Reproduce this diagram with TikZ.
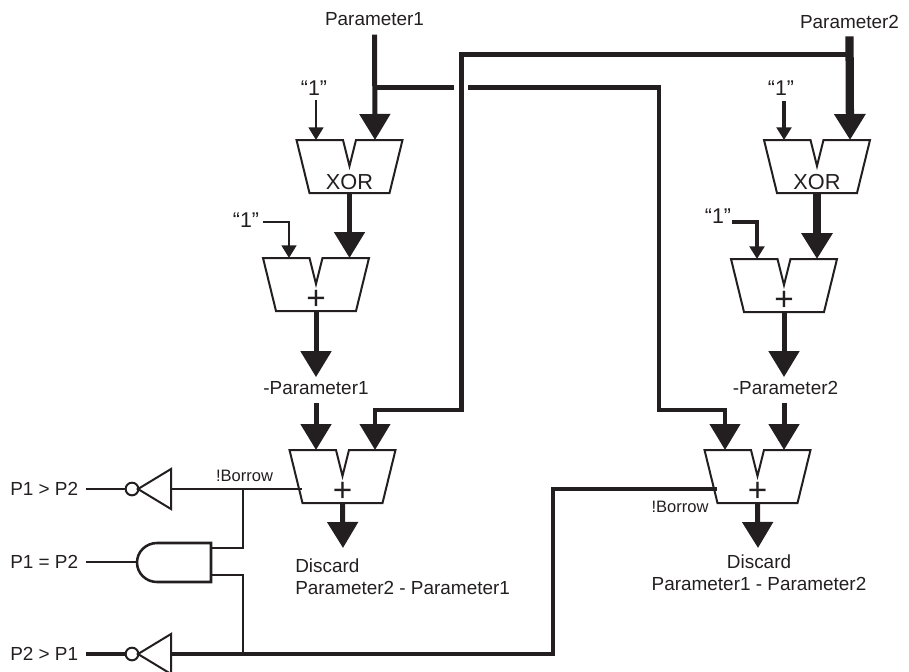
\documentclass[tikz,border=0pt]{standalone}
\usepackage{fontspec}
\setmainfont{Liberation Sans}
\usepackage{amsmath}
\usetikzlibrary{arrows.meta,shapes.geometric,calc}
\definecolor{ink}{HTML}{231F20}

% adder / xor block: name, centre x, top y, left input x, right input x, text
\newcommand{\alubox}[6]{
  \draw[alu] (#2-53,#3) -- (#2-6.5,#3) -- (#2,#3+26) -- (#2+6.5,#3) -- (#2+53,#3)
    -- (#2+40,#3+53) -- (#2-40,#3+53) -- cycle;
  \node[alutext] (#1) at (#2,#3+42) {#6};
  \coordinate (#1-l) at (#4,#3);
  \coordinate (#1-r) at (#5,#3);
  \coordinate (#1-o) at (#2,#3+53);
}
\newcommand{\plusmark}{\fontsize{25}{26}\selectfont +}

\begin{document}
\begin{tikzpicture}[
  x=0.75pt, y=-0.75pt, color=ink,
  alu/.style={draw, line width=1.5pt, line join=miter},
  alutext/.style={inner sep=0pt, font=\fontsize{16.3}{18}\selectfont},
  label/.style={inner sep=0pt, font=\fontsize{14.2}{16.5}\selectfont, align=center},
  onelabel/.style={inner sep=0pt, font=\fontsize{16}{18}\selectfont},
  small/.style={inner sep=0pt, font=\fontsize{12.4}{14}\selectfont},
  bus/.style={line width=3.75pt, -{Triangle[width=22.5pt,length=19.5pt]}},
  widebus/.style={line width=6.2pt, -{Triangle[width=22.5pt,length=19.5pt]}},
  crossbus/.style={line width=3.2pt, -{Triangle[width=22.5pt,length=19.5pt]}},
  bit/.style={line width=2pt, -{Triangle[width=11pt,length=9.5pt]}},
  widebit/.style={line width=3pt, -{Triangle[width=11pt,length=9.5pt]}},
  wire/.style={line width=1.9pt},
  widewire/.style={line width=2.7pt},
  notgate/.style={isosceles triangle, draw, line width=1.5pt, shape border rotate=180,
    isosceles triangle stretches, minimum height=24.75pt, minimum width=30pt, inner sep=0pt, anchor=lower side},
  bubble/.style={circle, draw, line width=1.5pt, minimum size=9.5pt, inner sep=0pt},
]
\useasboundingbox (0,0) rectangle (909,671);

% parameters
\node[label] (paramA) at (374.5,19) {Parameter1};
\node[label] (paramB) at (849.5,22) {Parameter2};

% arithmetic blocks
\alubox{xorA}{349.5}{140}{316}{375}{XOR}
\alubox{addA}{316}{258}{289}{349.5}{\plusmark}
\alubox{xorB}{817}{140}{784}{850}{XOR}
\alubox{addB}{784}{259}{757}{817}{\plusmark}
\alubox{subA}{342.5}{450}{316}{375}{\plusmark}
\alubox{subB}{757.5}{450}{725}{784}{\plusmark}

% constants
\node[onelabel] (oneA) at (314,88) {``1''};
\node[onelabel] (oneB) at (781,88) {``1''};
\node[onelabel] (oneC) at (246,220) {``1''};
\node[onelabel] (oneD) at (718,216) {``1''};

% negated values
\node[label] (negA) at (316,388) {-Parameter1};
\node[label] (negB) at (785.5,388) {-Parameter2};

% results
\node[label, anchor=north west, align=left] (resA) at (295,559) {Discard\\Parameter2 - Parameter1};
\node[label] (resB) at (759,573) {Discard\\Parameter1 - Parameter2};
\node[small] (brwA) at (244.5,476) {!Borrow};
\node[small] (brwB) at (680,507) {!Borrow};

% compare outputs
\node[label, anchor=west] (gtA) at (10,489) {P1 > P2};
\node[label, anchor=west] (eqA) at (10,562) {P1 = P2};
\node[label, anchor=west] (gtB) at (10,654) {P2 > P1};

\node[notgate] (notA) at (172,489) {};
\node[notgate] (notB) at (172,654) {};
\node[bubble] (bubA) at (132,489) {};
\node[bubble] (bubB) at (132,654) {};

\draw[wire] (211,543) -- (157,543) arc[start angle=-90, end angle=-270, x radius=20, y radius=19.5]
  -- (211,582) -- cycle;
\coordinate (andI) at (137,562);
\coordinate (andA) at (211,548);
\coordinate (andB) at (211,575);
\coordinate (subIn) at (302,489);
\coordinate (subOut) at (717,489);

% data paths
\draw[bus] ([yshift=-6.5pt]paramA.south) -- (xorA-r);
\draw[bus] (xorA-o) -- (addA-r);
\draw[bus] (addA-o) -- ([yshift=3pt]negA.north -| addA-o);
\draw[bus] (negA.south -| subA-l) ++(0,8) -- (subA-l);
\draw[widebus] ([yshift=-5.5pt]paramB.south) -- (xorB-r);
\draw[widebus] (xorB-o) -- (addB-r);
\draw[bus] (addB-o) -- ([yshift=3pt]negB.north -| addB-o);
\draw[bus] (negB.south -| subB-r) ++(0,8) -- (subB-r);
\draw[bus] (subA-o) -- (343,548);
\draw[bus] (subB-o) -- (758,548);

% crossing lines
\draw[crossbus] (850,54.5) -- (461.5,54.5) -- (461.5,410) -- (375,410) -- (subA-r);
\draw[crossbus] (468,87.5) -- (659,87.5) -- (659,410) -- (725,410) -- (subB-l);
\draw[line width=3.2pt] (375,87.5) -- (454,87.5);

% constant inputs
\draw[bit] (oneA.south |- 0,100) ++(2,0) -- (xorA-l);
\draw[widebit] (784,101) -- (xorB-l);
\draw[bit] (263,222) -- (289,222) -- (addA-l);
\draw[widebit] (732,222) -- (757,222) -- (addB-l);

% compare logic
\draw[wire] (subIn) -- (notA.lower side);
\draw[wire] (bubA) -- (86,489);
\draw[wire] (andI) -- (86,562);
\draw[wire] (243,489) -- (243,548) -- (andA);
\draw[wire] (andB) -- (243,575) -- (243,654);
\draw[widewire] (notB.lower side) -- (553,654) -- (553,489) -- (subOut);
\draw[widewire] (bubB) -- (86,654);
\end{tikzpicture}
\end{document}
